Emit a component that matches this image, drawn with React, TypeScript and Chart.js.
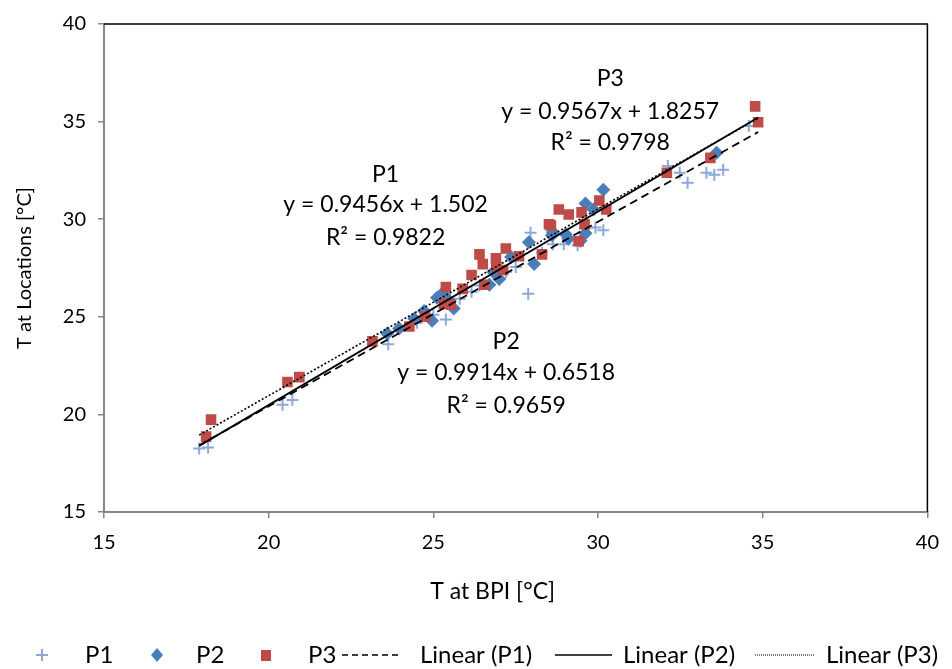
import React, { useEffect, useRef } from "react";
import { Chart, registerables } from "chart.js";

Chart.register(...registerables);

// ---- data ----
const SERIES_NAMES = ["P1", "P2", "P3"];

const P1_X = [17.89, 18.16, 20.42, 20.72, 23.63, 24.5, 25.0, 25.38, 25.8, 26.16, 26.4, 26.7, 27.2, 27.5, 27.88, 27.95, 28.3, 28.63, 28.96, 29.38, 29.71, 29.92, 30.16, 32.12, 32.48, 32.72, 33.29, 33.53, 33.8, 34.58];
const P1_Y = [18.25, 18.3, 20.49, 20.74, 23.59, 24.7, 25.1, 24.86, 25.93, 26.28, 26.6, 26.64, 27.3, 27.55, 26.18, 29.3, 28.3, 28.72, 28.72, 28.67, 29.58, 29.58, 29.43, 32.73, 32.38, 31.87, 32.38, 32.28, 32.53, 34.77];

const P2_X = [23.6, 23.96, 24.42, 24.72, 24.96, 25.11, 25.26, 25.32, 25.5, 25.62, 26.7, 26.82, 27.0, 27.36, 27.9, 28.06, 28.6, 28.63, 29.02, 29.1, 29.47, 29.62, 29.62, 29.86, 30.16, 33.6];
const P2_Y = [24.15, 24.4, 24.9, 25.3, 24.8, 25.98, 26.18, 26.13, 25.8, 25.42, 26.64, 27.3, 26.94, 28.06, 28.82, 27.7, 29.18, 29.33, 29.23, 29.0, 28.9, 29.28, 30.8, 30.5, 31.51, 33.4];

const P3_X = [18.1, 18.25, 20.57, 20.93, 23.15, 24.27, 24.75, 25.32, 25.38, 25.53, 25.89, 26.16, 26.4, 26.5, 26.55, 26.9, 26.91, 27.12, 27.2, 27.6, 28.3, 28.51, 28.57, 28.81, 29.11, 29.41, 29.5, 29.59, 30.04, 30.25, 32.09, 33.41, 34.77, 34.86];
const P3_Y = [18.86, 19.73, 21.66, 21.91, 23.74, 24.5, 25.0, 25.67, 26.53, 25.62, 26.43, 27.14, 28.2, 27.7, 26.64, 28.0, 27.6, 27.4, 28.5, 28.1, 28.2, 29.74, 29.68, 30.5, 30.24, 28.87, 30.35, 29.74, 30.96, 30.5, 32.38, 33.14, 35.78, 34.97];

const TREND_SLOPE = [0.9456, 0.9914, 0.9567];
const TREND_INTERCEPT = [1.502, 0.6518, 1.8257];
const R2 = ["0.9822", "0.9659", "0.9798"];
const TREND_NAMES = ["Linear (P1)", "Linear (P2)", "Linear (P3)"];

// label anchor points (data coordinates): x centre, then y of name / equation / R² lines
const LABEL_X = [23.55, 27.21, 30.37];
const LABEL_NAME_Y = [32.28, 23.74, 37.21];
const LABEL_EQ_Y = [30.75, 22.12, 35.53];
const LABEL_R2_Y = [29.07, 20.44, 33.9];

const X_TITLE = "T at BPI [°C]";
const Y_TITLE = "T at Locations [°C]";

const X_MIN = 15, X_MAX = 40, Y_MIN = 15, Y_MAX = 40, TICK_STEP = 5;

// ---- styles ----
const FONT = "Lato, 'Noto Sans', sans-serif";
const C_P1 = "#8EA9D9";
const C_P2 = "#4A7EBB";
const C_P3 = "#BE4B48";
const AXIS_GREY = "#868686";
const DASHES = [[8, 5], [], [2, 2]];

const zip = (xs: number[], ys: number[]) => xs.map((x, i) => ({ x, y: ys[i] }));

export default function App() {
  const ref = useRef<HTMLCanvasElement | null>(null);

  useEffect(() => {
    const canvas = ref.current;
    if (!canvas) return;

    const allX = [...P1_X, ...P2_X, ...P3_X];
    const xLo = Math.min(...allX);
    const xHi = Math.max(...allX);
    const trend = (i: number) => [xLo, xHi].map((x) => ({ x, y: TREND_SLOPE[i] * x + TREND_INTERCEPT[i] }));

    const overlay = {
      id: "overlay",
      afterDraw(chart: any) {
        const { ctx, chartArea: a, scales } = chart;
        const xs = scales.x, ys = scales.y;
        ctx.save();
        // top & right frame
        ctx.strokeStyle = "#000";
        ctx.lineWidth = 1.5;
        ctx.beginPath();
        ctx.moveTo(a.left, a.top);
        ctx.lineTo(a.right, a.top);
        ctx.lineTo(a.right, a.bottom);
        ctx.stroke();

        // x axis title (offset slightly left of the plot centre, as in the original)
        ctx.fillStyle = "#000";
        ctx.font = `23px ${FONT}`;
        ctx.textAlign = "center";
        ctx.textBaseline = "middle";
        ctx.fillText(X_TITLE, a.left + (a.right - a.left) * 0.472, a.bottom + 80);

        // trendline labels
        ctx.font = `23px ${FONT}`;
        for (let i = 0; i < 3; i++) {
          const eq = `y = ${TREND_SLOPE[i]}x + ${TREND_INTERCEPT[i]}`;
          const px = xs.getPixelForValue(LABEL_X[i]);
          ctx.fillText(SERIES_NAMES[i], px, ys.getPixelForValue(LABEL_NAME_Y[i]));
          ctx.fillText(eq, px, ys.getPixelForValue(LABEL_EQ_Y[i]));
          ctx.fillText(`R² = ${R2[i]}`, px, ys.getPixelForValue(LABEL_R2_Y[i]));
        }

        // legend
        const ly = 655;
        ctx.font = `24px ${FONT}`;
        ctx.textAlign = "left";
        ctx.textBaseline = "middle";
        // P1 cross
        ctx.strokeStyle = C_P1;
        ctx.lineWidth = 2;
        ctx.beginPath();
        ctx.moveTo(36, ly); ctx.lineTo(48, ly);
        ctx.moveTo(42, ly - 6); ctx.lineTo(42, ly + 6);
        ctx.stroke();
        ctx.fillStyle = "#000";
        ctx.fillText(SERIES_NAMES[0], 85, ly);
        // P2 diamond
        ctx.fillStyle = C_P2;
        ctx.beginPath();
        ctx.moveTo(157, ly - 7); ctx.lineTo(163, ly); ctx.lineTo(157, ly + 7); ctx.lineTo(151, ly);
        ctx.closePath(); ctx.fill();
        ctx.fillStyle = "#000";
        ctx.fillText(SERIES_NAMES[1], 196, ly);
        // P3 square
        ctx.fillStyle = C_P3;
        ctx.fillRect(261, ly - 5, 10, 11);
        ctx.fillStyle = "#000";
        ctx.fillText(SERIES_NAMES[2], 308, ly);
        // trend lines
        const lineItems = [[342, 402, 420], [555, 612, 623], [755, 815, 826]];
        for (let i = 0; i < 3; i++) {
          const [x0, x1, tx] = lineItems[i];
          ctx.strokeStyle = "#000";
          ctx.lineWidth = i === 2 ? 1 : 1.5;
          ctx.setLineDash(i === 0 ? [6, 4] : i === 2 ? [1, 1] : []);
          ctx.beginPath();
          ctx.moveTo(x0, ly); ctx.lineTo(x1, ly);
          ctx.stroke();
          ctx.setLineDash([]);
          ctx.fillStyle = "#000";
          ctx.fillText(TREND_NAMES[i], tx, ly);
        }
        ctx.restore();
      },
    };

    const chart = new Chart(canvas, {
      type: "scatter",
      data: {
        datasets: [
          { label: SERIES_NAMES[0], data: zip(P1_X, P1_Y), pointStyle: "cross", pointRadius: 6, pointBorderWidth: 2, borderColor: C_P1, backgroundColor: C_P1, order: 3 },
          { label: SERIES_NAMES[1], data: zip(P2_X, P2_Y), pointStyle: "rectRot", pointRadius: 7, pointBorderWidth: 0, borderColor: C_P2, backgroundColor: C_P2, order: 2 },
          { label: SERIES_NAMES[2], data: zip(P3_X, P3_Y), pointStyle: "rect", pointRadius: 7.5, pointBorderWidth: 0, borderColor: C_P3, backgroundColor: C_P3, order: 1 },
          ...[0, 1, 2].map((i) => ({
            type: "line" as const,
            label: TREND_NAMES[i],
            data: trend(i),
            showLine: true,
            borderColor: "#000",
            borderWidth: i === 2 ? 1.6 : 1.8,
            borderDash: DASHES[i],
            pointRadius: 0,
            fill: false,
            order: 0,
          })),
        ],
      },
      options: {
        responsive: false,
        animation: false,
        layout: { padding: { top: 20, right: 17, bottom: 65, left: 0 } },
        plugins: { legend: { display: false }, tooltip: { enabled: false } },
        scales: {
          x: {
            type: "linear",
            min: X_MIN,
            max: X_MAX,
            ticks: { stepSize: TICK_STEP, color: "#000", font: { family: FONT, size: 20 }, padding: 13 },
            grid: { drawOnChartArea: false, drawTicks: true, tickLength: 6, color: AXIS_GREY, lineWidth: 1.5 },
            border: { color: AXIS_GREY, width: 2 },
            title: { display: false },
            afterFit: (s: any) => { s.height = 92; },
          },
          y: {
            type: "linear",
            min: Y_MIN,
            max: Y_MAX,
            ticks: { stepSize: TICK_STEP, color: "#000", font: { family: FONT, size: 20 }, padding: 12 },
            grid: { drawOnChartArea: false, drawTicks: true, tickLength: 6, color: AXIS_GREY, lineWidth: 1.5 },
            border: { color: AXIS_GREY, width: 2 },
            title: { display: true, text: Y_TITLE, color: "#000", font: { family: FONT, size: 20 }, padding: { top: 13, bottom: 0 } },
            afterFit: (s: any) => { s.width = 104; },
          },
        },
      },
      plugins: [overlay],
    } as any);

    return () => chart.destroy();
  }, []);

  return (
    <div style={{ position: "fixed", left: 0, top: 0, width: 952, height: 669, background: "#fff" }}>
      <canvas ref={ref} width={952} height={669} />
    </div>
  );
}
